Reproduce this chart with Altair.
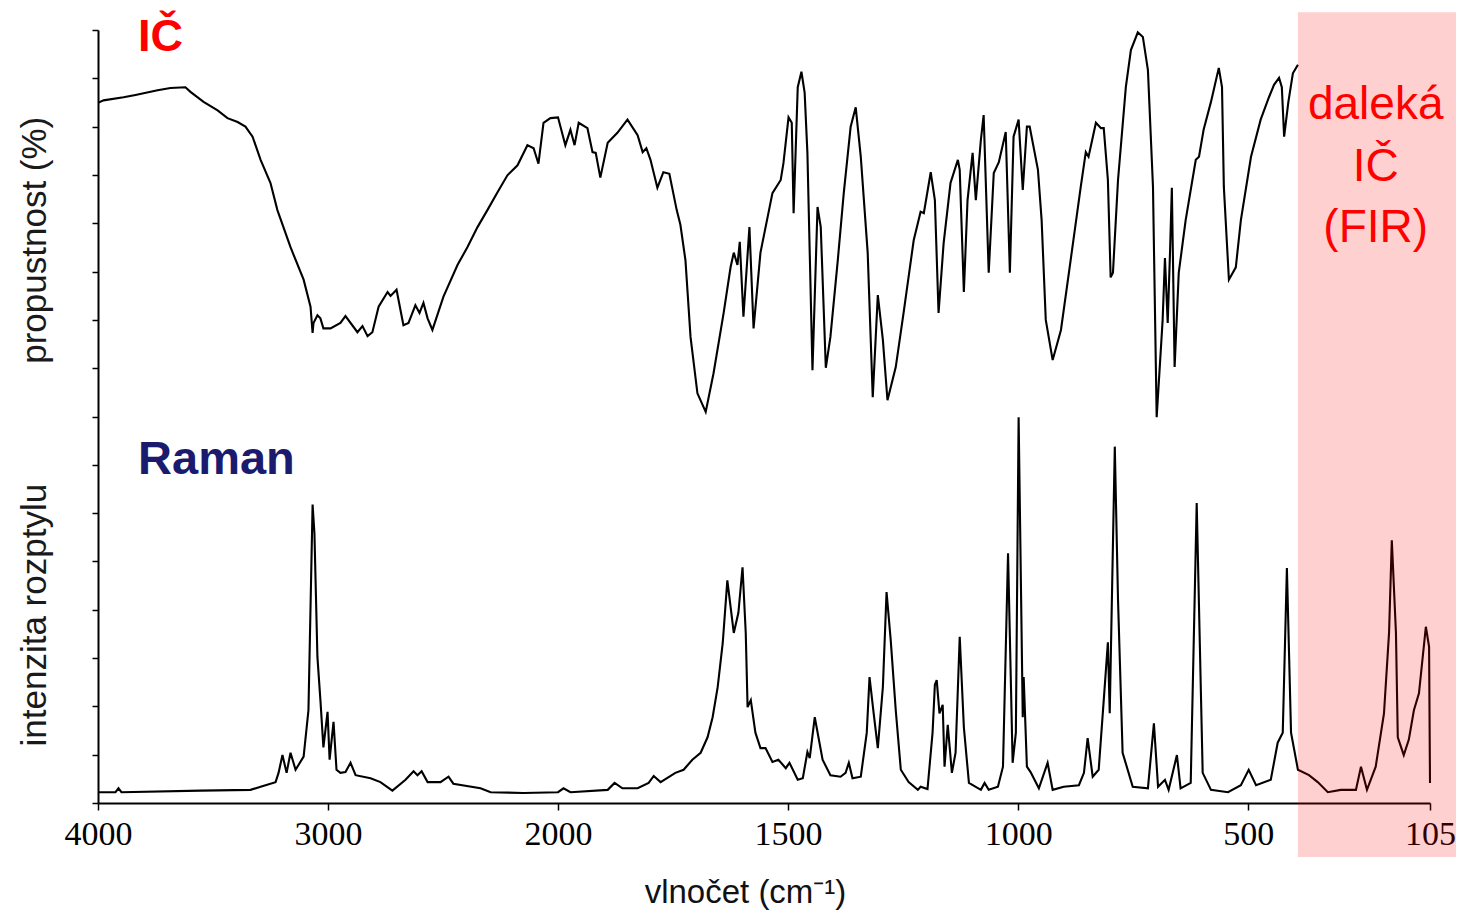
import altair as alt
import pandas as pd

# ---------------- data ----------------
IR_WN = [3998, 3976, 3889, 3837, 3741, 3685, 3620, 3598, 3541, 3480,
         3437, 3393, 3359, 3328, 3293, 3250, 3220, 3163, 3106, 3076,
         3067, 3063, 3046, 3033, 3020, 2989, 2946, 2924, 2872, 2850,
         2828, 2807, 2780, 2741, 2728, 2702, 2672, 2650, 2620, 2602,
         2585, 2567, 2546, 2498, 2437, 2394, 2350, 2307, 2263, 2220,
         2176, 2133, 2106, 2085, 2063, 2033, 2000, 1984, 1973, 1964,
         1955, 1936, 1925, 1918, 1908, 1892, 1871, 1849, 1827, 1816,
         1808, 1799, 1784, 1771, 1758, 1742, 1734, 1723, 1712, 1697,
         1679, 1662, 1640, 1625, 1618, 1610, 1605, 1597, 1584, 1575,
         1560, 1534, 1516, 1510, 1499, 1492, 1488, 1479, 1471, 1464,
         1458, 1447, 1436, 1429, 1418, 1408, 1392, 1379, 1364, 1353,
         1342, 1327, 1316, 1305, 1294, 1284, 1266, 1249, 1227, 1212,
         1205, 1190, 1181, 1173, 1162, 1147, 1131, 1127, 1118, 1110,
         1099, 1092, 1081, 1075, 1064, 1053, 1042, 1027, 1018, 1010,
         999, 990, 981, 975, 957, 949, 940, 925, 907, 886,
         864, 853, 847, 831, 820, 814, 805, 799, 794, 783,
         766, 755, 740, 729, 718, 707, 699, 686, 681, 675,
         670, 666, 660, 651, 636, 614, 607, 597, 581, 564,
         557, 553, 542, 527, 516, 494, 473, 455, 444, 433,
         427, 422, 413, 403, 392]
IR_T = [90.6, 90.9, 91.3, 91.6, 92.2, 92.5, 92.6, 92.0, 90.7, 89.6,
        88.6, 88.1, 87.5, 86.2, 83.2, 80.2, 76.7, 71.9, 67.7, 64.2,
        60.8, 62.1, 63.1, 62.7, 61.4, 61.4, 62.1, 63.0, 60.9, 61.7,
        60.4, 60.9, 64.2, 66.1, 65.6, 66.4, 61.8, 62.1, 64.4, 63.4,
        64.7, 62.7, 61.2, 65.5, 69.6, 71.9, 74.5, 76.7, 79.0, 81.2,
        82.5, 85.1, 84.7, 82.7, 88.0, 88.6, 88.7, 85.1, 87.1, 85.1,
        88.0, 87.3, 84.2, 84.1, 80.9, 85.4, 86.7, 88.4, 86.4, 84.2,
        84.7, 83.2, 79.6, 81.6, 81.4, 76.7, 74.8, 70.2, 60.3, 53.0,
        50.6, 55.6, 63.4, 69.3, 71.2, 69.6, 72.6, 62.9, 74.5, 61.4,
        71.2, 78.9, 80.6, 82.8, 88.7, 88.0, 76.3, 92.6, 94.6, 91.9,
        84.1, 56.0, 77.1, 74.5, 56.3, 60.3, 70.2, 78.9, 87.5, 90.0,
        83.6, 71.2, 52.5, 65.7, 59.9, 52.1, 56.4, 63.4, 72.8, 76.5,
        76.3, 81.6, 78.0, 63.4, 72.4, 80.2, 83.2, 81.9, 66.1, 78.0,
        84.1, 78.0, 85.8, 89.0, 68.6, 81.5, 82.9, 86.8, 68.6, 86.2,
        88.4, 79.3, 87.5, 87.5, 81.9, 75.4, 62.5, 57.3, 61.2, 70.2,
        79.7, 84.2, 83.6, 88.0, 87.3, 87.3, 80.6, 68.0, 68.6, 80.6,
        92.6, 97.4, 99.7, 99.1, 94.8, 79.7, 49.9, 62.5, 70.5, 62.1,
        71.2, 79.6, 56.4, 68.6, 75.4, 83.2, 83.6, 87.1, 90.7, 95.1,
        92.6, 79.7, 67.7, 69.3, 75.4, 83.6, 88.4, 91.3, 92.9, 93.8,
        92.6, 86.2, 90.6, 94.4, 95.5]

RA_WN = [3998, 3924, 3911, 3898, 3554, 3337, 3293, 3228, 3215, 3198,
         3180, 3163, 3141, 3106, 3085, 3067, 3059, 3046, 3033, 3020,
         3002, 2993, 2976, 2963, 2946, 2924, 2902, 2880, 2815, 2772,
         2720, 2663, 2628, 2611, 2593, 2567, 2511, 2476, 2455, 2337,
         2293, 2150, 2000, 1988, 1973, 1892, 1877, 1860, 1827, 1803,
         1792, 1777, 1745, 1727, 1708, 1690, 1675, 1664, 1653, 1642,
         1632, 1618, 1608, 1599, 1592, 1588, 1581, 1571, 1560, 1549,
         1534, 1521, 1505, 1497, 1479, 1468, 1458, 1453, 1442, 1425,
         1408, 1386, 1375, 1368, 1360, 1342, 1329, 1323, 1314, 1305,
         1294, 1286, 1277, 1266, 1255, 1238, 1218, 1212, 1197, 1186,
         1181, 1177, 1171, 1164, 1160, 1153, 1144, 1136, 1127, 1118,
         1107, 1081, 1073, 1064, 1044, 1033, 1022, 1012, 1005, 999,
         990, 988, 981, 973, 955, 936, 925, 901, 868, 857,
         849, 838, 825, 814, 805, 801, 790, 783, 773, 751,
         718, 705, 696, 681, 673, 655, 647, 625, 612, 599,
         581, 544, 516, 499, 483, 451, 436, 425, 416, 407,
         392, 368, 349, 327, 299, 266, 255, 242, 223, 205,
         194, 188, 179, 175, 162, 151, 140, 129, 114, 107,
         105]
RA_I = [1.4, 1.4, 1.9, 1.4, 1.6, 1.7, 2.1, 2.7, 3.9, 6.2,
        3.9, 6.5, 4.3, 6.0, 12.0, 38.6, 34.9, 18.9, 13.3, 7.2,
        11.8, 5.6, 10.5, 4.3, 3.9, 4.0, 5.2, 3.6, 3.2, 2.7,
        1.6, 3.0, 4.1, 3.6, 4.1, 2.7, 2.7, 3.4, 2.5, 1.9,
        1.4, 1.3, 1.4, 1.9, 1.4, 1.7, 2.6, 1.9, 1.9, 2.6,
        3.5, 2.7, 3.9, 4.3, 5.6, 6.5, 8.5, 11.1, 15.0, 20.7,
        28.8, 22.0, 24.6, 30.5, 22.0, 12.4, 13.3, 9.1, 7.1, 7.1,
        5.3, 5.6, 4.5, 5.2, 3.0, 3.2, 6.6, 5.8, 11.1, 5.6,
        3.6, 3.4, 3.9, 5.2, 3.2, 3.4, 9.1, 16.3, 11.6, 7.1,
        15.0, 27.3, 21.1, 12.0, 4.3, 2.7, 1.7, 2.1, 1.8, 9.1,
        15.3, 15.9, 11.6, 12.7, 4.7, 10.1, 3.9, 6.5, 21.5, 9.8,
        2.6, 1.7, 2.6, 1.7, 2.1, 4.7, 32.3, 5.2, 9.1, 49.9,
        11.1, 16.3, 4.7, 4.0, 1.9, 5.2, 1.7, 2.1, 2.3, 3.9,
        8.4, 3.4, 4.3, 13.3, 20.8, 11.6, 46.1, 26.3, 6.5, 2.1,
        1.9, 10.3, 2.1, 3.0, 1.7, 6.2, 1.9, 2.6, 38.8, 3.9,
        1.7, 1.4, 2.3, 4.3, 2.3, 3.0, 7.8, 9.1, 30.4, 9.1,
        4.3, 3.6, 2.7, 1.4, 1.7, 1.7, 4.7, 1.7, 4.7, 11.6,
        22.0, 34.0, 22.0, 8.5, 6.2, 8.2, 12.0, 14.2, 22.8, 20.2,
        2.6]

X_TICKS = [4000, 3000, 2000, 1500, 1000, 500, 105]
Y_TICKS = [i * 6.25 for i in range(17)]

# far-IR shaded band (wavenumber span) and its vertical extent
FIR_WN = [392, 46]
FIR_V = [102.3, -7.0]

# annotation texts
SERIES_LABELS = ["IČ", "Raman"]
SERIES_LABEL_WN = [3728, 3485]
SERIES_LABEL_V = [99.1, 44.4]
SERIES_LABEL_SIZE = [45, 47]
SERIES_LABEL_COLORS = ["#ff0000", "#1a1a6e"]
FIR_LINES = ["daleká", "IČ", "(FIR)"]
FIR_LINE_V = [90.3, 82.3, 74.4]
FIR_LINE_WN = 223
YTITLES = ["propustnost (%)", "intenzita rozptylu"]
YTITLE_V = [72.8, 24.3]

# ---------------- chart ----------------
spectra = pd.concat([
    pd.DataFrame({"wn": IR_WN, "v": IR_T, "s": "IR"}),
    pd.DataFrame({"wn": RA_WN, "v": RA_I, "s": "Raman"}),
], ignore_index=True)

xscale = alt.Scale(domain=[4000, 2000, 105], range=[0, 460, 1332], nice=False, zero=False)
yscale = alt.Scale(domain=[0, 100], nice=False, zero=False)

xaxis = alt.Axis(values=X_TICKS, format="d", title="vlnočet (cm⁻¹)", grid=False,
                 labelFont="Liberation Serif", labelFontSize=34, labelColor="#000000",
                 labelPadding=7, tickSize=7, tickWidth=1.5, tickColor="#000000",
                 domainColor="#000000", domainWidth=2, labelFlush=False, labelOverlap=False,
                 titleFont="Liberation Sans", titleFontSize=33, titleFontWeight="normal",
                 titleColor="#111111", titleX=647, titleY=89, titleAlign="center",
                 titleBaseline="middle", titleAnchor="start")
yaxis = alt.Axis(values=Y_TICKS, labels=False, title=None, grid=False,
                 tickSize=6, tickWidth=1.5, tickColor="#000000",
                 domainColor="#000000", domainWidth=2)

lines = alt.Chart(spectra).mark_line(color="black", strokeWidth=2.1).encode(
    x=alt.X("wn:Q", scale=xscale, axis=xaxis),
    y=alt.Y("v:Q", scale=yscale, axis=yaxis),
    detail="s:N",
)

band = alt.Chart(pd.DataFrame({"wn": [FIR_WN[0]], "wn2": [FIR_WN[1]],
                               "v": [FIR_V[0]], "v2": [FIR_V[1]]})).mark_rect(
    color="#ff0000", opacity=0.185).encode(
    x=alt.X("wn:Q", scale=xscale), x2="wn2:Q",
    y=alt.Y("v:Q", scale=yscale), y2="v2:Q",
)

series_labels = alt.Chart(pd.DataFrame({
    "wn": SERIES_LABEL_WN, "v": SERIES_LABEL_V, "t": SERIES_LABELS,
    "c": SERIES_LABEL_COLORS, "fs": SERIES_LABEL_SIZE,
})).mark_text(font="Liberation Sans", fontWeight="bold",
              align="center", baseline="middle").encode(
    x=alt.X("wn:Q", scale=xscale), y=alt.Y("v:Q", scale=yscale),
    text="t:N", color=alt.Color("c:N", scale=None),
    size=alt.Size("fs:Q", scale=None),
)

fir_labels = alt.Chart(pd.DataFrame({
    "wn": [FIR_LINE_WN] * 3, "v": FIR_LINE_V, "t": FIR_LINES
})).mark_text(font="Liberation Sans", fontSize=46, color="#ff0000",
              align="center", baseline="middle").encode(
    x=alt.X("wn:Q", scale=xscale), y=alt.Y("v:Q", scale=yscale), text="t:N",
)

ytitles = alt.Chart(pd.DataFrame({"v": YTITLE_V, "t": YTITLES})).mark_text(
    font="Liberation Sans", fontSize=35, color="#1a1a1a", angle=270,
    align="center", baseline="middle").encode(
    x=alt.value(-63), y=alt.Y("v:Q", scale=yscale), text="t:N",
)

chart = alt.layer(lines, band, series_labels, fir_labels, ytitles).properties(
    width=1332, height=773,
    autosize=alt.AutoSizeParams(type="none"),
    padding={"left": 90, "top": 22, "right": 26, "bottom": 108},
    background="white",
).configure_view(stroke=None)

chart.save("out.html", embed_options={"renderer": "svg", "actions": False})
